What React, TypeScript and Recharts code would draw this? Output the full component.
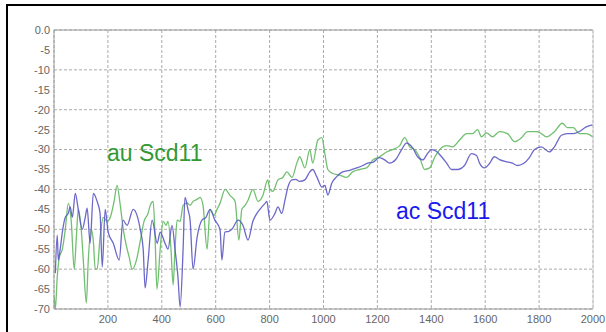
import React from 'react';
import { LineChart, Line, XAxis, YAxis, CartesianGrid, ReferenceLine } from 'recharts';

const xTicks = [200, 400, 600, 800, 1000, 1200, 1400, 1600, 1800, 2000];
const yTicks = [0, -5, -10, -15, -20, -25, -30, -35, -40, -45, -50, -55, -60, -65, -70];

const auX = [1, 5, 12, 20, 31, 42, 53, 64, 75, 83, 90, 101, 109, 120, 127, 138, 146, 153, 160, 171, 183, 197, 209, 223, 234, 246, 257, 268, 279, 290, 305, 320, 334, 349, 357, 368, 375, 382, 394, 405, 416, 423, 434, 442, 449, 457, 468, 479, 494, 505, 516, 531, 542, 553, 568, 579, 594, 605, 616, 635, 653, 672, 686, 697, 709, 720, 738, 757, 775, 793, 801, 812, 831, 849, 864, 883, 901, 912, 931, 949, 960, 979, 994, 1005, 1016, 1034, 1060, 1086, 1108, 1134, 1160, 1183, 1208, 1234, 1256, 1283, 1301, 1320, 1338, 1357, 1375, 1394, 1412, 1431, 1457, 1479, 1505, 1531, 1553, 1572, 1586, 1605, 1627, 1653, 1683, 1709, 1735, 1757, 1790, 1808, 1827, 1857, 1886, 1905, 1927, 1949, 1975, 1998];
const auV = [-67, -70, -62, -57, -55, -50, -43.5, -48, -60, -52, -45, -50, -58, -68.5, -58, -50, -53, -60, -60, -52, -47, -48, -47, -43, -39, -44, -50, -54, -57, -60, -58, -53, -48, -46, -44, -43, -52, -65, -55, -48, -49, -48, -55, -64, -55, -47.7, -48, -44, -43.4, -44, -43, -42.5, -42, -44, -55, -45, -46.5, -45, -43.5, -40, -41.5, -43, -52.7, -45, -44, -42.7, -40, -43, -41.5, -37.6, -40, -40.5, -37.6, -37, -35.6, -37, -33.4, -31.8, -34.6, -30, -33.4, -27.6, -27, -31, -35, -36, -36.4, -37, -35.6, -35, -34.6, -32.6, -31.8, -30.6, -30, -29, -27, -29.3, -30, -32, -35, -34.6, -32, -30, -29, -29.3, -27.6, -26, -26, -25, -26.8, -25.8, -26.8, -25.5, -26, -28, -27, -25.5, -25.5, -26, -26.8, -25.5, -23.4, -24.5, -24.5, -26, -26, -26.8];

const acX = [5, 12, 16, 23, 31, 42, 53, 60, 68, 79, 90, 105, 116, 123, 134, 146, 160, 171, 179, 190, 201, 220, 242, 256, 271, 294, 308, 320, 331, 338, 349, 364, 383, 394, 412, 423, 438, 449, 460, 468, 479, 486, 497, 505, 516, 531, 549, 564, 579, 597, 616, 623, 634, 649, 660, 683, 701, 720, 738, 753, 764, 783, 790, 801, 820, 831, 845, 857, 868, 883, 897, 912, 931, 949, 960, 975, 994, 1005, 1016, 1031, 1049, 1071, 1097, 1123, 1146, 1164, 1183, 1208, 1227, 1245, 1268, 1290, 1308, 1331, 1349, 1368, 1386, 1401, 1420, 1438, 1457, 1475, 1497, 1523, 1549, 1568, 1579, 1597, 1616, 1634, 1653, 1675, 1701, 1720, 1742, 1764, 1783, 1808, 1838, 1857, 1883, 1905, 1927, 1949, 1975, 1998];
const acV = [-61, -51.5, -57.7, -55, -50.7, -47, -46, -44.4, -47, -41, -45, -50, -47, -44.7, -53.5, -41, -43, -46, -59.5, -45, -50.7, -53.5, -57.7, -47.7, -49, -45, -46.5, -50, -55, -64.7, -58, -47.7, -53.5, -50.7, -53.5, -55, -49, -55, -62, -69.5, -55, -42, -45, -47.7, -60, -52, -47.7, -47, -45, -47.7, -50, -57.7, -50.7, -50.5, -50, -47.7, -49, -52.7, -48, -46, -45, -43.5, -43, -47.7, -46, -44.4, -46, -42.7, -39.4, -37.6, -37.5, -38, -37.6, -35.6, -35, -36.8, -39.4, -39, -41.4, -38.4, -36.8, -35.6, -35.2, -34.6, -34, -33.4, -33.2, -32, -32.6, -33.4, -32.5, -30, -28.4, -29.6, -31.8, -32.6, -31, -30, -30.5, -31.8, -33.4, -35, -35, -34, -31, -31.5, -33.4, -34.6, -33.5, -31.8, -32.5, -33, -33.4, -34, -33.5, -32, -30, -29.3, -30.6, -29.3, -26.4, -26, -26, -25.5, -24.3, -23.8];

const auData = auX.map((x, i) => ({ x, v: auV[i] }));
const acData = acX.map((x, i) => ({ x, v: acV[i] }));

const tickStyle = { fill: '#666', fontSize: 11, fontFamily: 'Liberation Sans, Arial, sans-serif' };

export default function App() {
  return (
    <div style={{ position: 'absolute', left: 0, top: 0, width: 606, height: 332, overflow: 'hidden', background: '#fff' }}>
      <div style={{ position: 'absolute', left: 6, top: 4, width: 598, height: 326, borderLeft: '2px solid #000', borderTop: '2px solid #000' }} />
      <div style={{ position: 'absolute', left: 0, top: 0 }}>
        <LineChart width={606} height={332} margin={{ top: 30, right: 13, bottom: 3, left: 4 }}>
          <CartesianGrid stroke="#aaa" strokeDasharray="3 2" />
          <XAxis
            dataKey="x"
            type="number"
            domain={[0, 2000]}
            ticks={xTicks}
            allowDataOverflow
            height={20}
            tickSize={0}
            tickMargin={6}
            tick={tickStyle}
            axisLine={{ stroke: '#999' }}
            tickLine={false}
          />
          <YAxis
            type="number"
            domain={[-70, 0]}
            ticks={yTicks}
            allowDataOverflow
            width={50}
            tickSize={0}
            tickMargin={4}
            tick={tickStyle}
            tickFormatter={(v: number) => (v === 0 ? '0.0' : String(v))}
            axisLine={{ stroke: '#999' }}
            tickLine={false}
          />
          <ReferenceLine y={0} stroke="#999" />
          <ReferenceLine x={2000} stroke="#ccc" />
          <Line data={auData} dataKey="v" type="monotone" stroke="#62b862" strokeOpacity={0.9} strokeWidth={1.3} dot={false} isAnimationActive={false} />
          <Line data={acData} dataKey="v" type="monotone" stroke="#5c58c4" strokeOpacity={0.9} strokeWidth={1.3} dot={false} isAnimationActive={false} />
        </LineChart>
      </div>
      <svg width={606} height={332} style={{ position: 'absolute', left: 0, top: 0, pointerEvents: 'none' }}>
        <text x={107} y={161} fill="#339933" fontSize={23} fontFamily="Liberation Sans, Arial, sans-serif">au Scd11</text>
        <text x={396} y={219} fill="#1a1aee" fontSize={23} fontFamily="Liberation Sans, Arial, sans-serif">ac Scd11</text>
      </svg>
    </div>
  );
}
